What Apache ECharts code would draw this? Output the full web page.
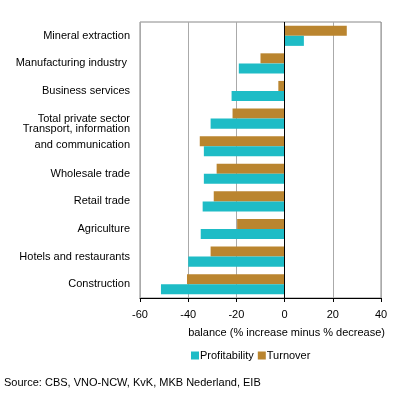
<!DOCTYPE html>
<html>
<head>
<meta charset="UTF-8">
<title></title>
<script src="https://cdn.jsdelivr.net/npm/echarts@6/dist/echarts.min.js"></script>
</head>
<body style="margin:0">
<div id="main" style="width:396px;height:396px;"></div>
<script>
// categories top to bottom
var categories = ['Mineral extraction', 'Manufacturing industry ', 'Business services', 'Total private sector',
  'Transport, information\nand communication', 'Wholesale trade', 'Retail trade', 'Agriculture',
  'Hotels and restaurants', 'Construction'];
var profitability = [8, -19, -22, -30.7, -33.5, -33.5, -34, -34.8, -40, -51.3];
var turnover = [25.8, -10, -2.6, -21.6, -35.2, -28.2, -29.4, -19.7, -30.7, -40.5];
var xTicks = [-60, -40, -20, 0, 20, 40];

var myChart = echarts.init(document.getElementById('main'));
var font = 'Liberation Sans, Arial, sans-serif';

var option = {
  animation: false,
  textStyle: { fontFamily: font },
  grid: { left: 140, right: 15, top: 22, bottom: 98, show: true, borderColor: '#888', borderWidth: 1 },
  legend: {
    data: ['Profitability', 'Turnover'],
    left: 186, top: 345,
    icon: 'rect', itemWidth: 8, itemHeight: 8, itemGap: 4,
    textStyle: { fontFamily: font, fontSize: 11, color: '#000', padding: [0, 0, 0, -4] }
  },
  xAxis: {
    type: 'value', min: xTicks[0], max: xTicks[xTicks.length - 1], interval: 20,
    axisLine: { show: true, onZero: false, lineStyle: { color: '#000', width: 1 } },
    axisTick: { show: true, length: 4, lineStyle: { color: '#000' } },
    axisLabel: { color: '#000', fontSize: 11, margin: 11, fontFamily: font },
    splitLine: { show: true, lineStyle: { color: '#aaa', width: 1 } }
  },
  yAxis: {
    type: 'category', data: categories, inverse: true,
    axisLine: { show: false }, axisTick: { show: false },
    axisLabel: {
      color: '#000', fontSize: 11, margin: 10, fontFamily: font, lineHeight: 16,
      formatter: function (v) {
        // two-line label sits higher in the reference: add an empty line below
        return v.indexOf('\n') >= 0 ? '{m|' + v.replace('\n', '}\n{m|') + '}\n{e| }' : v;
      },
      rich: {
        m: { fontSize: 11, fontFamily: font, color: '#000', lineHeight: 16 },
        e: { fontSize: 11, lineHeight: 18 }
      }
    }
  },
  graphic: [
    { type: 'text', right: 11, top: 327, style: { text: 'balance (% increase minus % decrease)', font: '11px ' + font, fill: '#000' } },
    { type: 'text', left: 4, top: 377, style: { text: 'Source: CBS, VNO-NCW, KvK, MKB Nederland, EIB', font: '11px ' + font, fill: '#000' } }
  ],
  series: [
    {
      name: 'Turnover', type: 'bar', data: turnover, barGap: '0%', barCategoryGap: '27%',
      itemStyle: { color: '#BA852F' },
      markLine: {
        silent: true, symbol: 'none', label: { show: false },
        lineStyle: { color: '#000', type: 'solid', width: 1 },
        data: [{ xAxis: 0 }]
      }
    },
    {
      name: 'Profitability', type: 'bar', data: profitability, barGap: '0%', barCategoryGap: '27%',
      itemStyle: { color: '#1EBCC6' }
    }
  ]
};

myChart.setOption(option);
</script>
</body>
</html>
